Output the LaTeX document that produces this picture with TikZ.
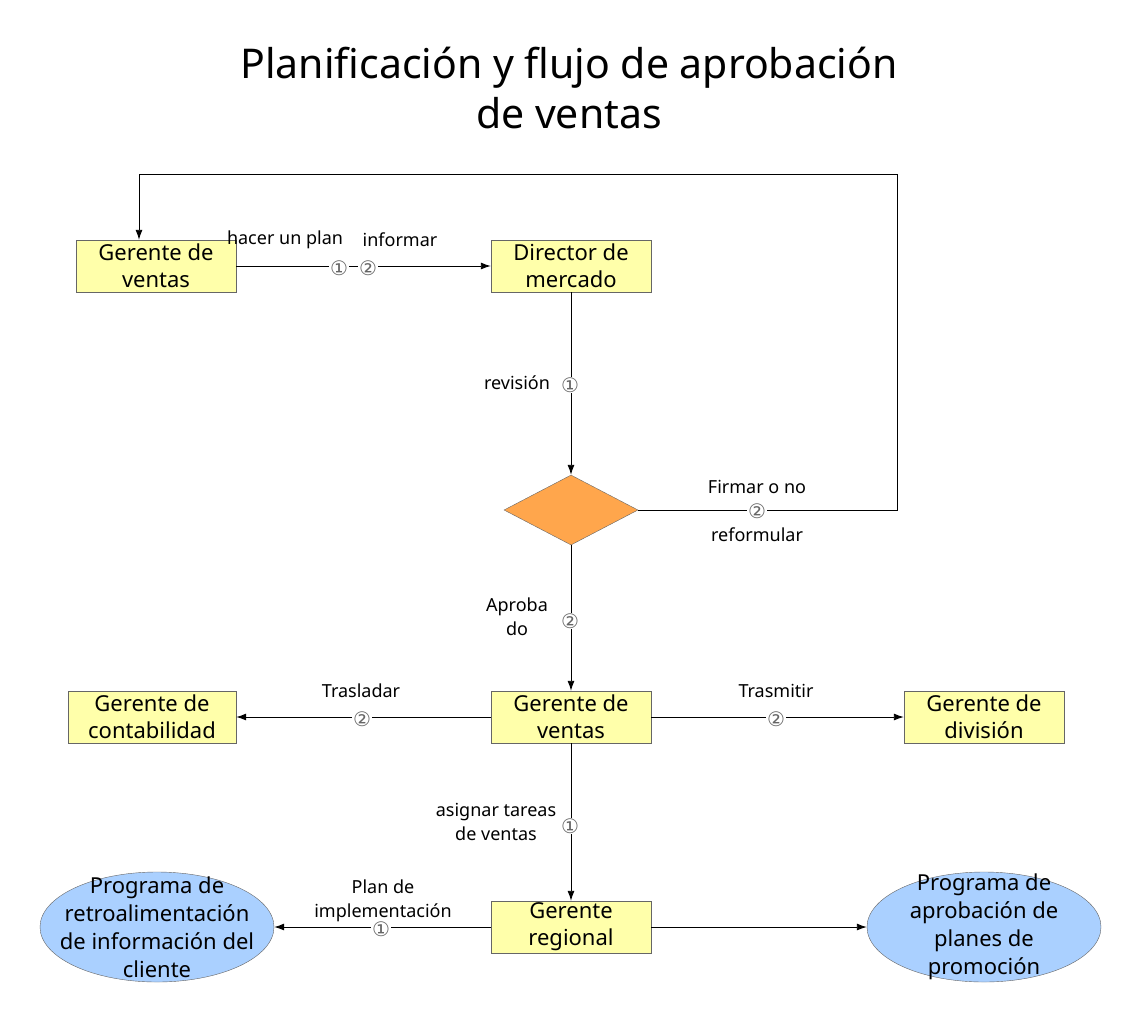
\documentclass[tikz,border=0pt]{standalone}
\usepackage{fontspec}
\setmainfont{Noto Sans}
\newfontfamily\sym{DejaVu Sans}
\usetikzlibrary{shapes.geometric,arrows.meta}
\definecolor{ellblue}{RGB}{170,208,255}
\definecolor{boxyel}{RGB}{255,255,170}
\begin{document}
\begin{tikzpicture}[x=1pt,y=-1pt,
  box/.style={draw=black!60,fill=boxyel,minimum width=160pt,minimum height=52pt,inner sep=0pt,align=center,font=\fontsize{22}{27}\selectfont},
  ell/.style={ellipse,draw=black!60,fill=ellblue,minimum width=234pt,minimum height=110pt,inner sep=0pt},
  etxt/.style={align=center,font=\fontsize{22}{28}\selectfont,inner sep=0pt},
  arr/.style={-{Latex[length=10pt,width=7pt]},line width=0.9pt},
  lab/.style={font=\fontsize{18}{24}\selectfont,align=center},
  num/.style={font=\sym\fontsize{20}{20}\selectfont,text=black!60,fill=white,inner sep=1pt}]
\useasboundingbox (0,0) rectangle (1137,1020);
\node[font=\fontsize{41}{50}\selectfont,align=center] (title) at (569,88) {Planificación y flujo de aprobación\\de ventas};
\node[box] (gv1) at (156,266) {Gerente de\\ventas};
\node[box] (dm) at (571,266) {Director de\\mercado};
\node[diamond,draw=black!60,fill=orange!70,minimum width=134pt,minimum height=70pt,inner sep=0pt,aspect=1.9] (d) at (571,510) {};
\node[box] (gv2) at (571,717) {Gerente de\\ventas};
\node[box,minimum width=168pt] (gc) at (152,717) {Gerente de\\contabilidad};
\node[box] (gd) at (984,717) {Gerente de\\división};
\node[box] (gr) at (571,927) {Gerente\\regional};
\node[ell] (el) at (157,927) {};
\node[etxt] (elt) at (157,927) {Programa de\\retroalimentación\\de información del\\cliente};
\node[ell] (er) at (984,927) {};
\node[etxt] (ert) at (984,927) {Programa de\\aprobación de\\planes de\\promoción};
\coordinate (c1) at (897,510);
\coordinate (c2) at (897,174);
\coordinate (c3) at (139,174);
\draw[arr] (gv1) -- (dm);
\node[lab] (l1) at (285,240) {hacer un plan};
\node[lab] (l2) at (400,240) {informar};
\node[num] (n1) at (339,268) {①};
\node[num] (n2) at (368,268) {②};
\draw[arr] (dm) -- (d);
\node[lab] (l3) at (517,383) {revisión};
\node[num] (n3) at (570,385) {①};
\draw[arr] (d.east) -- (c1) -- (c2) -- (c3) -- (gv1.north -| c3);
\node[num] (n4) at (757,511) {②};
\node[lab] (l4) at (757,487) {Firmar o no};
\node[lab] (l5) at (757,535) {reformular};
\draw[arr] (d) -- (gv2);
\node[lab] (l6) at (517,617) {Aproba\\do};
\node[num] (n5) at (570,621) {②};
\draw[arr] (gv2) -- (gc);
\node[lab] (l7) at (361,691) {Trasladar};
\node[num] (n6) at (362,719) {②};
\draw[arr] (gv2) -- (gd);
\node[lab] (l8) at (776,691) {Trasmitir};
\node[num] (n7) at (776,719) {②};
\draw[arr] (gv2) -- (gr);
\node[lab] (l9) at (496,822) {asignar tareas\\de ventas};
\node[num] (n8) at (570,826) {①};
\draw[arr] (gr) -- (el);
\node[lab] (l10) at (383,901) {Plan de\\implementación};
\node[num] (n9) at (381,929) {①};
\draw[arr] (gr) -- (er);
\end{tikzpicture}
\end{document}
